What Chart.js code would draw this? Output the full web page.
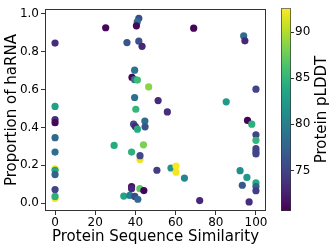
<!DOCTYPE html>
<html>
<head>
<meta charset="utf-8">
<script src="https://cdn.jsdelivr.net/npm/chart.js@4/dist/chart.umd.min.js"></script>
<style>
  body { margin: 0; background: #fff; }
  #wrap { position: relative; width: 332px; height: 249px; }
  #main { position: absolute; left: 0; top: 0; }
  #cbar { position: absolute; left: 270px; top: 0; }
</style>
</head>
<body>
<div id="wrap">
  <canvas id="main" width="275" height="249"></canvas>
  <canvas id="cbar" width="62" height="249"></canvas>
</div>
<script>
// Values
const similarity = [
    0, 25.2, 0, 0, 0, 0, 0, 0, 0, 0, 0, 0, 0, 29.4,
    41.7, 40.9, 40.5, 69.0, 35.8, 41.7, 43.3, 39.6, 38.3, 39.6, 41.0, 46.6, 39.6, 51.3, 40.2, 55.9,
    44.7, 39.1, 40.0, 44.8, 41.0, 44.0, 38.1, 42.3, 42.3, 50.7, 57.7, 60.2, 60.2, 64.4,
    38.1, 38.1, 42.2, 44.2, 34.2, 37.2, 39.7, 41.2,
    93.9, 94.5, 100, 85.2, 95.8, 97.9, 100, 100, 100, 100, 100, 92.1, 95.5, 93.2, 100, 100, 100, 72.0, 96.6
];
const haRNA = [
    0.845, 0.926, 0.511, 0.442, 0.425, 0.346, 0.270, 0.181, 0.174, 0.151, 0.072, 0.026, 0.036, 0.305,
    0.976, 0.957, 0.936, 0.924, 0.848, 0.855, 0.828, 0.702, 0.664, 0.652, 0.650, 0.614, 0.558, 0.542, 0.496, 0.482,
    0.434, 0.417, 0.404, 0.403, 0.391, 0.308, 0.270, 0.231, 0.251, 0.174, 0.186, 0.196, 0.164, 0.133,
    0.088, 0.077, 0.077, 0.067, 0.038, 0.041, 0.036, 0.021,
    0.883, 0.857, 0.602, 0.535, 0.437, 0.417, 0.361, 0.332, 0.288, 0.272, 0.260, 0.172, 0.136, 0.095, 0.107, 0.088, 0.066, 0.014, 0.007
];
const plddt = [
    73.5, 71, 83, 73.5, 71, 78, 78.5, 92, 83.5, 77.5, 75, 92, 84.5, 84,
    75.7, 78.5, 71, 70.8, 76.5, 76, 73, 79, 71, 79.4, 85.6, 88.7, 78.7, 73.3, 85, 73.5,
    78.4, 75.3, 73, 76.3, 84, 88.2, 84.5, 92, 75.3, 74.5, 82, 92.5, 92.3, 80.7,
    71.5, 72.9, 87, 70.8, 83.5, 80, 75.3, 78,
    78.4, 73.1, 75, 82.5, 70.8, 84.5, 75.1, 85, 75, 75, 75, 81.4, 82.3, 76.6, 84, 77.6, 74.6, 73, 73.5
];

const xTicks = [0, 20, 40, 60, 80, 100];
const yTicks = [0, 0.2, 0.4, 0.6, 0.8, 1.0];
const cbTicks = [75, 80, 85, 90];
const cbRange = [70.6, 92.6];

// viridis colormap stops
const viridis = ['#440154', '#482475', '#414487', '#355f8d', '#2a788e', '#21918c',
                 '#22a884', '#44bf70', '#7ad151', '#bddf26', '#fde725'];

function hexToRgb(h) {
    return [parseInt(h.slice(1, 3), 16), parseInt(h.slice(3, 5), 16), parseInt(h.slice(5, 7), 16)];
}

function colorFor(v) {
    let t = (v - cbRange[0]) / (cbRange[1] - cbRange[0]);
    t = Math.min(1, Math.max(0, t));
    const pos = t * (viridis.length - 1);
    const i = Math.min(viridis.length - 2, Math.floor(pos));
    const f = pos - i;
    const a = hexToRgb(viridis[i]), b = hexToRgb(viridis[i + 1]);
    const c = a.map((ch, k) => Math.round(ch + (b[k] - ch) * f));
    return `rgb(${c[0]}, ${c[1]}, ${c[2]})`;
}

const font = 'DejaVu Sans';
const axisColor = '#333';

Chart.defaults.font.family = font;
Chart.defaults.color = '#000';

// box around the plot area, like matplotlib spines
const frame = {
    id: 'frame',
    afterDraw(chart) {
        const { ctx, chartArea: a } = chart;
        ctx.save();
        ctx.strokeStyle = axisColor;
        ctx.lineWidth = 1;
        ctx.strokeRect(Math.round(a.left) + 0.5, Math.round(a.top) + 0.5,
                       Math.round(a.right - a.left) - 1, Math.round(a.bottom - a.top) - 1);
        ctx.restore();
    }
};

const points = similarity.map((x, i) => ({ x, y: haRNA[i] }));

new Chart(document.getElementById('main'), {
    type: 'scatter',
    data: {
        datasets: [{
            data: points,
            backgroundColor: plddt.map(colorFor),
            borderWidth: 0,
            pointRadius: 3.6,
            pointHoverRadius: 3.6
        }]
    },
    options: {
        responsive: false,
        animation: false,
        devicePixelRatio: 1,
        layout: { padding: { left: 0, top: 5, right: 9, bottom: 0 } },
        plugins: { legend: { display: false }, tooltip: { enabled: false } },
        scales: {
            x: {
                type: 'linear',
                min: -5,
                max: 105,
                afterBuildTicks: s => { s.ticks = xTicks.map(v => ({ value: v })); },
                afterFit: s => { s.height = 38; },
                ticks: { font: { size: 12 }, padding: 1, maxRotation: 0 },
                grid: { drawOnChartArea: false, tickLength: 4, color: axisColor },
                border: { display: false },
                title: { display: true, text: 'Protein Sequence Similarity', font: { size: 15 }, padding: { top: 0, bottom: 3 } }
            },
            y: {
                type: 'linear',
                min: -0.041,
                max: 1.024,
                afterBuildTicks: s => { s.ticks = yTicks.map(v => ({ value: v })); },
                afterFit: s => { s.width = 45; },
                ticks: { font: { size: 12 }, padding: 2, callback: v => v.toFixed(1) },
                grid: { drawOnChartArea: false, tickLength: 4, color: axisColor },
                border: { display: false },
                title: { display: true, text: 'Proportion of haRNA', font: { size: 15 }, padding: { top: 3, bottom: 0 } }
            }
        }
    },
    plugins: [frame]
});

// colorbar label reads bottom to top, as in the reference
const cbLabel = {
    id: 'cbLabel',
    afterDraw(chart) {
        const { ctx, chartArea: a } = chart;
        ctx.save();
        ctx.translate(51.7, (a.top + a.bottom) / 2);
        ctx.rotate(-Math.PI / 2);
        ctx.font = `15px "${font}"`;
        ctx.fillStyle = '#000';
        ctx.textAlign = 'center';
        ctx.textBaseline = 'middle';
        ctx.fillText('Protein pLDDT', 0, 0);
        ctx.restore();
    }
};

new Chart(document.getElementById('cbar'), {
    type: 'bar',
    data: {
        labels: ['pLDDT'],
        datasets: [{
            data: [cbRange],
            backgroundColor: ctx => {
                const a = ctx.chart.chartArea;
                if (!a) return viridis[0];
                const g = ctx.chart.ctx.createLinearGradient(0, a.bottom, 0, a.top);
                viridis.forEach((c, i) => g.addColorStop(i / (viridis.length - 1), c));
                return g;
            },
            borderColor: axisColor,
            borderWidth: 1,
            borderSkipped: false,
            barPercentage: 1,
            categoryPercentage: 1
        }]
    },
    options: {
        responsive: false,
        animation: false,
        devicePixelRatio: 1,
        layout: { padding: { left: 11, top: 5, right: 0, bottom: 38 } },
        plugins: { legend: { display: false }, tooltip: { enabled: false } },
        scales: {
            x: { display: false },
            y: {
                position: 'right',
                min: cbRange[0],
                max: cbRange[1],
                afterBuildTicks: s => { s.ticks = cbTicks.map(v => ({ value: v })); },
                afterFit: s => { s.width = 41; },
                ticks: { font: { size: 12 }, padding: 1 },
                grid: { drawOnChartArea: false, tickLength: 3, color: axisColor },
                border: { display: false }
            }
        }
    },
    plugins: [cbLabel]
});
</script>
</body>
</html>
